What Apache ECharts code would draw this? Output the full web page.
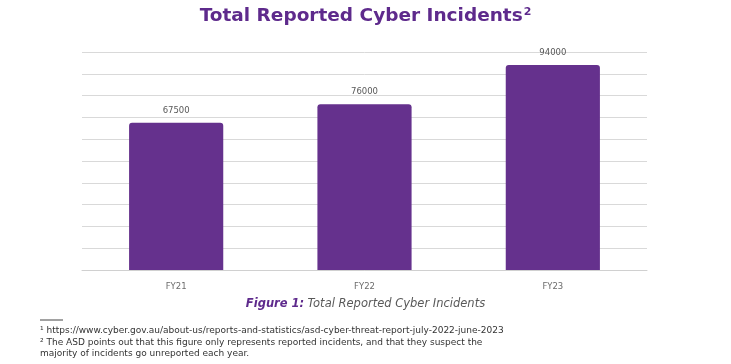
<!DOCTYPE html>
<html><head><meta charset="utf-8">
<script src="https://cdn.jsdelivr.net/npm/echarts@6/dist/echarts.min.js"></script>
<style>html,body{margin:0;padding:0;background:#fff}#c{width:731px;height:364px}</style>
</head><body><div id="c"></div>
<script>
const categories = ['FY21', 'FY22', 'FY23'];
const incidents = [67500, 76000, 94000];
const yTicks = {min: 0, max: 100000, interval: 10000};

const chart = echarts.init(document.getElementById('c'));
const purple = '#65318d';
const font = '"DejaVu Sans", sans-serif';
chart.setOption({
  animation: false,
  backgroundColor: '#fff',
  title: {
    text: '{t|Total Reported Cyber Incidents}{s|2}',
    left: 'center', top: 2,
    textStyle: {
      rich: {
        t: {fontSize: 18.5, fontWeight: 'bold', color: '#5e2a8c', fontFamily: font},
        s: {fontSize: 11, fontWeight: 'bold', color: '#5e2a8c', fontFamily: font, verticalAlign: 'top', padding: [0,0,8,1]}
      }
    }
  },
  grid: {left: 82, right: 84, top: 52, bottom: 94},
  xAxis: {
    type: 'category', data: categories,
    axisLine: {lineStyle: {color: '#d0d0d0', width: 1}},
    axisTick: {show: false},
    axisLabel: {color: '#6b6b6b', fontSize: 8.5, margin: 12, fontFamily: font}
  },
  yAxis: {
    type: 'value', min: yTicks.min, max: yTicks.max, interval: yTicks.interval,
    axisLabel: {show: false}, axisLine: {show: false}, axisTick: {show: false},
    splitLine: {lineStyle: {color: '#d9d9d9', width: 1}}
  },
  series: [{
    type: 'bar', data: incidents, barWidth: '50%',
    itemStyle: {color: purple, borderRadius: [3,3,0,0]},
    label: {show: true, position: 'top', distance: 8, color: '#595959', fontSize: 8.5, fontFamily: font}
  }],
  graphic: [
    {type: 'text', left: 'center', top: 298, style: {
      text: '{b|Figure 1:} {i|Total Reported Cyber Incidents}',
      rich: {
        b: {fontSize: 11.5, fontWeight: 'bold', fontStyle: 'italic', fill: '#5e2a8c', fontFamily: font},
        i: {fontSize: 11.5, fontStyle: 'italic', fill: '#595959', fontFamily: font}
      }
    }},
    {type: 'line', shape: {x1: 40, y1: 320, x2: 63, y2: 320}, style: {stroke: '#444', lineWidth: 1}},
    {type: 'text', left: 40, top: 325, style: {
      text: '¹ https://www.cyber.gov.au/about-us/reports-and-statistics/asd-cyber-threat-report-july-2022-june-2023\n² The ASD points out that this figure only represents reported incidents, and that they suspect the\nmajority of incidents go unreported each year.',
      fontSize: 9, lineHeight: 11.5, fill: '#333', fontFamily: font
    }}
  ]
});
</script></body></html>
